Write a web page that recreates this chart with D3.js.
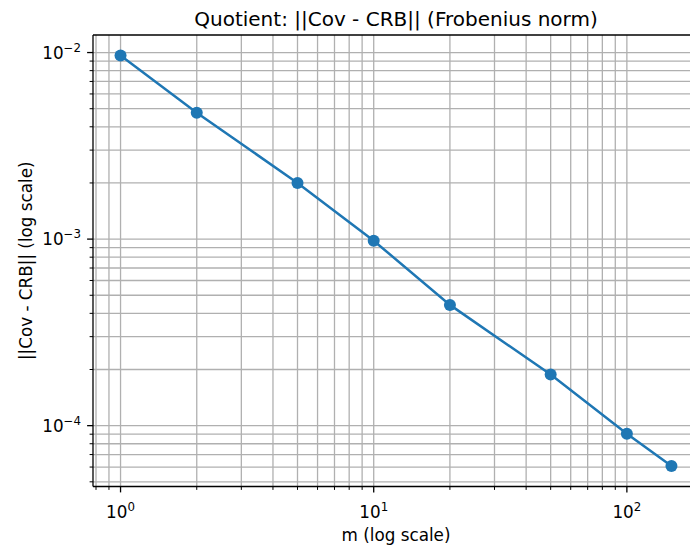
<!DOCTYPE html>
<html><head><meta charset="utf-8">
<script src="https://cdn.jsdelivr.net/npm/d3@7"></script>
<style>body{margin:0;background:#fff;} svg{display:block;} text{font-family:"DejaVu Sans",sans-serif;fill:#000;}</style>
</head><body>
<svg id="c" width="690" height="551"></svg>
<script>
const mValues = [1, 2, 5, 10, 20, 50, 100, 150];
const normValues = [0.00964, 0.00476, 0.00200, 0.00098, 0.000444, 0.000188, 0.0000906, 0.0000608];
const xTickExps = [0, 1, 2];
const yTickExps = [-4, -3, -2];
const titleText = "Quotient: ||Cov - CRB|| (Frobenius norm)";
const xLabelText = "m (log scale)";
const yLabelText = "||Cov - CRB|| (log scale)";

const W = 690, H = 551;
const L = 93, T = 35, R = 699, B = 486.5;
const svg = d3.select("#c");

function padDomain(vals) {
  const lo = Math.log10(d3.min(vals)), hi = Math.log10(d3.max(vals));
  const p = (hi - lo) * 0.05;
  return [Math.pow(10, lo - p), Math.pow(10, hi + p)];
}
const x = d3.scaleLog().domain(padDomain(mValues)).range([L, R]);
const y = d3.scaleLog().domain(padDomain(normValues)).range([B, T]);

function minorMajor(scale) {
  const [a, b] = scale.domain();
  const major = [], minor = [];
  for (let e = Math.floor(Math.log10(a)) - 1; e <= Math.ceil(Math.log10(b)); e++) {
    for (let k = 1; k < 10; k++) {
      const v = k * Math.pow(10, e);
      if (v < a || v > b) continue;
      (k === 1 ? major : minor).push(v);
    }
  }
  return {major, minor};
}
const xt = minorMajor(x), yt = minorMajor(y);

svg.append("defs").append("clipPath").attr("id", "ax")
  .append("rect").attr("x", L).attr("y", T).attr("width", R - L).attr("height", B - T);

const gw = 1.3;
const grid = svg.append("g").attr("clip-path", "url(#ax)");
grid.selectAll(".gx").data(xt.major.concat(xt.minor)).join("line")
  .attr("x1", d => x(d)).attr("x2", d => x(d)).attr("y1", T).attr("y2", B)
  .attr("stroke", "#b0b0b0").attr("stroke-width", gw);
grid.selectAll(".gy").data(yt.major.concat(yt.minor)).join("line")
  .attr("y1", d => y(d)).attr("y2", d => y(d)).attr("x1", L).attr("x2", R)
  .attr("stroke", "#b0b0b0").attr("stroke-width", gw);

// data
const plot = svg.append("g").attr("clip-path", "url(#ax)");
const pts = mValues.map((m, i) => [m, normValues[i]]);
plot.append("path").datum(pts)
  .attr("d", d3.line().x(d => x(d[0])).y(d => y(d[1])))
  .attr("fill", "none").attr("stroke", "#1f77b4").attr("stroke-width", 2.5);
plot.selectAll("circle").data(pts).join("circle")
  .attr("cx", d => x(d[0])).attr("cy", d => y(d[1])).attr("r", 6)
  .attr("fill", "#1f77b4");

// spines
const sp = svg.append("g").attr("stroke", "#000").attr("stroke-width", 1.3).attr("fill", "none");
sp.append("line").attr("x1", L).attr("x2", L).attr("y1", T).attr("y2", B);
sp.append("line").attr("x1", L).attr("x2", R).attr("y1", B).attr("y2", B);
sp.append("line").attr("x1", L).attr("x2", R).attr("y1", T).attr("y2", T);
sp.append("line").attr("x1", R).attr("x2", R).attr("y1", T).attr("y2", B);

// ticks
const tk = svg.append("g").attr("stroke", "#000").attr("stroke-width", 1.3);
tk.selectAll(".xM").data(xt.major).join("line")
  .attr("x1", d => x(d)).attr("x2", d => x(d)).attr("y1", B).attr("y2", B + 5.9);
tk.selectAll(".xm").data(xt.minor).join("line").attr("stroke-width", 1)
  .attr("x1", d => x(d)).attr("x2", d => x(d)).attr("y1", B).attr("y2", B + 3.4);
tk.selectAll(".yM").data(yt.major).join("line")
  .attr("y1", d => y(d)).attr("y2", d => y(d)).attr("x1", L).attr("x2", L - 5.9);
tk.selectAll(".ym").data(yt.minor).join("line").attr("stroke-width", 1)
  .attr("y1", d => y(d)).attr("y2", d => y(d)).attr("x1", L).attr("x2", L - 3.4);

// tick labels
const fs = 16.8, sfs = 11.8;
xTickExps.forEach(e => {
  const t = svg.append("text").attr("x", x(Math.pow(10, e))).attr("y", 518)
    .attr("text-anchor", "middle").style("font-size", fs + "px");
  t.append("tspan").text("10");
  t.append("tspan").attr("dy", -7).style("font-size", sfs + "px").text(String(e).replace("-", "\u2212"));
});
yTickExps.forEach(e => {
  const t = svg.append("text").attr("x", 81).attr("y", y(Math.pow(10, e)) + 6)
    .attr("text-anchor", "end").style("font-size", fs + "px");
  t.append("tspan").text("10");
  t.append("tspan").attr("dy", -7).style("font-size", sfs + "px").text(String(e).replace("-", "\u2212"));
});

// labels
svg.append("text").attr("x", (L + R) / 2).attr("y", 541).attr("text-anchor", "middle")
  .style("font-size", fs + "px").text(xLabelText);
svg.append("text").attr("transform", `translate(32,${(T + B) / 2}) rotate(-90)`)
  .attr("text-anchor", "middle").style("font-size", fs + "px").text(yLabelText);
svg.append("text").attr("x", (L + R) / 2).attr("y", 26).attr("text-anchor", "middle")
  .style("font-size", "20px").text(titleText);
</script>
</body></html>
